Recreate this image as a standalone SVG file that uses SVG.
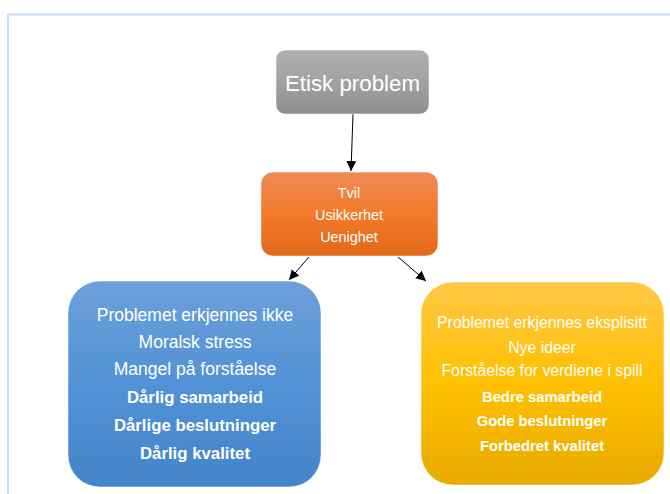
<svg xmlns="http://www.w3.org/2000/svg" width="670" height="494" viewBox="0 0 670 494">
<defs>
<linearGradient id="gGrey" x1="0" y1="0" x2="0" y2="1"><stop offset="0" stop-color="#b0b0b0"/><stop offset="0.5" stop-color="#a2a2a2"/><stop offset="1" stop-color="#8f8f8f"/></linearGradient>
<linearGradient id="gOrange" x1="0" y1="0" x2="0" y2="1"><stop offset="0" stop-color="#ee8b57"/><stop offset="0.5" stop-color="#f27a2a"/><stop offset="1" stop-color="#e2691a"/></linearGradient>
<linearGradient id="gBlue" x1="0" y1="0" x2="0" y2="1"><stop offset="0" stop-color="#6ca0da"/><stop offset="0.5" stop-color="#5292d6"/><stop offset="1" stop-color="#4384ca"/></linearGradient>
<linearGradient id="gYellow" x1="0" y1="0" x2="0" y2="1"><stop offset="0" stop-color="#fec847"/><stop offset="0.5" stop-color="#ffc000"/><stop offset="1" stop-color="#e8aa00"/></linearGradient>
<marker id="arrow" viewBox="0 0 10 10" refX="10" refY="5" markerWidth="10" markerHeight="10" markerUnits="userSpaceOnUse" orient="auto"><path d="M0,0 L10,5 L0,10 z" fill="#000"/></marker>
</defs>
<style>
text{font-family:"Liberation Sans",Arial,sans-serif;fill:#fff;text-anchor:middle;dominant-baseline:central}
.b{font-weight:bold}
.conn line{stroke:#000;stroke-width:1;marker-end:url(#arrow)}
.box{stroke:#ffffff;stroke-opacity:0.5;stroke-width:1}
</style>
<rect width="670" height="494" fill="#fff"/>
<g id="frame" fill="none" stroke="#c6daf1" stroke-width="2">
<line x1="7" y1="14.5" x2="670" y2="14.5"/>
<line x1="8" y1="14" x2="8" y2="494"/>
</g>
<g class="conn" id="connectors">
<line x1="353" y1="114" x2="351" y2="171"/>
<line x1="309" y1="257" x2="289" y2="280"/>
<line x1="398" y1="257" x2="426" y2="281"/>
</g>
<g id="node-etisk">
<rect class="box" x="276" y="50" width="153" height="64" rx="9" fill="url(#gGrey)"/>
<text x="352.5" y="83" font-size="22.3">Etisk problem</text>
</g>
<g id="node-tvil">
<rect class="box" x="261" y="172" width="177" height="84" rx="12" fill="url(#gOrange)"/>
<text x="349" y="193" font-size="14.4">Tvil</text>
<text x="349" y="214.5" font-size="14.4">Usikkerhet</text>
<text x="349" y="237" font-size="14.4">Uenighet</text>
</g>
<g id="node-ikke">
<rect class="box" x="68" y="281" width="253" height="206" rx="32" fill="url(#gBlue)"/>
<text x="195" y="315" font-size="17.5">Problemet erkjennes ikke</text>
<text x="195" y="342" font-size="17.5">Moralsk stress</text>
<text x="195" y="369" font-size="17.5">Mangel på forståelse</text>
<text class="b" x="195" y="397" font-size="16.8">Dårlig samarbeid</text>
<text class="b" x="195" y="425" font-size="16.8">Dårlige beslutninger</text>
<text class="b" x="195" y="453" font-size="16.8">Dårlig kvalitet</text>
</g>
<g id="node-eksplisitt">
<rect class="box" x="421" y="282" width="243" height="203" rx="32" fill="url(#gYellow)"/>
<text x="542" y="322" font-size="15.8">Problemet erkjennes eksplisitt</text>
<text x="542" y="347" font-size="15.8">Nye ideer</text>
<text x="542" y="370.5" font-size="15.8">Forståelse for verdiene i spill</text>
<text class="b" x="542" y="396.5" font-size="14.8">Bedre samarbeid</text>
<text class="b" x="542" y="421" font-size="14.8">Gode beslutninger</text>
<text class="b" x="542" y="445.5" font-size="14.8">Forbedret kvalitet</text>
</g>
</svg>
